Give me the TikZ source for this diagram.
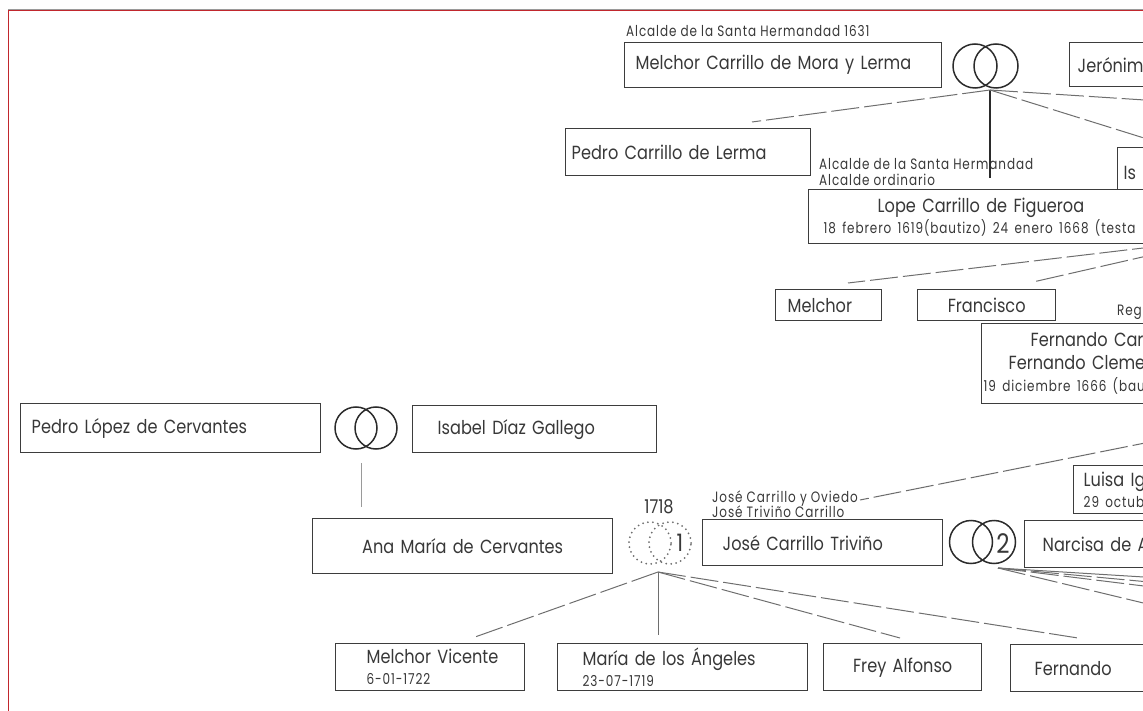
\documentclass[tikz,border=0pt]{standalone}
\usepackage{fontspec}
\setmainfont{Poppins}[FakeStretch=0.85]
\newfontfamily\notefam{Poppins}[FakeStretch=0.8,LetterSpace=6]

\definecolor{boxgray}{HTML}{3D3D3D}
\definecolor{inkgray}{HTML}{383838}
\definecolor{ringgray}{HTML}{2B2B2B}
\definecolor{wiregray}{HTML}{6E6E6E}
\definecolor{lightline}{HTML}{9A9A9A}
\definecolor{framered}{HTML}{C1272D}

\newcommand{\namefont}{\fontsize{19}{21}\selectfont}
\newcommand{\notefont}{\notefam\fontsize{15}{16}\selectfont}
\newcommand{\datefont}{\notefam\fontsize{15}{17}\selectfont}

\begin{document}
\begin{tikzpicture}[x=1pt,y=-1pt,
  person/.style={draw=boxgray,line width=1.4pt,fill=white,anchor=north west,inner ysep=0pt,align=left,font=\namefont,text=inkgray},
  note/.style={anchor=base west,inner sep=0pt,font=\notefont,text=inkgray},
  ring/.style={circle,draw=ringgray,line width=1.5pt,minimum size=44pt,inner sep=0pt},
  dotring/.style={circle,draw=wiregray,line width=2pt,dash pattern=on 0pt off 5pt,line cap=round,minimum size=42pt,inner sep=0pt},
  kin/.style={draw=wiregray,line width=1pt,dash pattern=on 28pt off 5pt},
  stem/.style={draw=ringgray,line width=1.2pt}]
\useasboundingbox (0,0) rectangle (1143,711);
\clip (0,0) rectangle (1143,711);

% frame of the page
\draw[lightline,line width=0.5pt] (8,9) -- (1143,9);
\draw[framered,line width=1.6pt] (8.5,711) -- (8.5,10.5) -- (1143,10.5);

% first generation
\node[note] (hermandad1631) at (626,37) {Alcalde de la Santa Hermandad 1631};
\node[person,inner xsep=11pt,text width=295pt,minimum height=45pt] (melchorCML) at (624,42) {Melchor Carrillo de Mora y Lerma};
\node[ring] (ringA1) at (975,66) {};
\node[ring] (ringA2) at (996,66) {};
\node[person,inner xsep=8pt,text width=110pt,minimum height=44pt] (jeronim) at (1069,42) {Jerónim};

% children of Melchor
\node[person,inner xsep=6pt,text width=233pt,minimum height=47pt] (pedroCL) at (565,128) {Pedro Carrillo de Lerma};
\node[person,inner xsep=6pt,text width=60pt,minimum height=50pt] (isb) at (1117,147) {Is};
\node[note] (alcaldeSH) at (819,170) {Alcalde de la Santa Hermandad};
\node[note] (alcaldeOrd) at (819,186) {Alcalde ordinario};
\node[person,inner xsep=15pt,text width=400pt,minimum height=54pt] (lope) at (808,189)
  {\hspace*{54pt}Lope Carrillo de Figueroa\\{\datefont 18 febrero 1619(bautizo) 24 enero 1668 (testa}};

% children of Lope
\node[person,inner xsep=12pt,text width=82pt,minimum height=31pt] (melchor) at (775,289) {Melchor};
\node[person,inner xsep=5pt,text width=128pt,minimum height=31pt,align=center] (francisco) at (917,289) {Francisco};
\node[note] (regidor) at (1117,316) {Reg};
\node[person,inner xsep=2pt,text width=300pt,minimum height=80pt,font=\fontsize{19}{22.5}\selectfont] (fernando) at (981,323)
  {\hspace*{47pt}Fernando Car\\\hspace*{25pt}Fernando Cleme\\{\datefont 19 diciembre 1666 (bau}};
\node[person,inner xsep=10pt,text width=120pt,minimum height=48pt] (luisa) at (1073,465) {Luisa Ig\\{\datefont 29 octub}};

% the Cervantes side
\node[person,inner xsep=11pt,text width=278pt,minimum height=49pt] (pedroLC) at (20,403) {Pedro López de Cervantes};
\node[ring,minimum size=42pt] (ringB1) at (356,428) {};
\node[ring,minimum size=42pt] (ringB2) at (376,428) {};
\node[person,inner xsep=25pt,text width=194pt,minimum height=47pt] (isabel) at (412,405) {Isabel Díaz Gallego};
\node[person,inner xsep=5pt,text width=290pt,minimum height=55pt,align=center] (ana) at (312,518) {Ana María de Cervantes};

% José and his two marriages
\node[font=\namefont,text=inkgray] (yr1718) at (659,507) {1718};
\node[dotring] (dotB1) at (650,543) {};
\node[dotring] (dotB2) at (670,543) {};
\node[font=\fontsize{24}{24}\selectfont,text=inkgray] (numOne) at (680,543) {1};
\node[note] (joseOviedo) at (712,502) {José Carrillo y Oviedo};
\node[note] (joseTrivino) at (712,517) {José Triviño Carrillo};
\node[person,inner xsep=20pt,text width=200pt,minimum height=46pt] (jose) at (702,519) {José Carrillo Triviño};
\node[ring,minimum size=43pt] (ringC1) at (971,542) {};
\node[ring,minimum size=43pt] (ringC2) at (994,542) {};
\node[font=\fontsize{27}{27}\selectfont,text=inkgray] (numTwo) at (1003,544) {2};
\node[person,inner xsep=18pt,text width=150pt,minimum height=47pt] (narcisa) at (1024,520) {Narcisa de A};

% grandchildren
\node[person,inner xsep=2pt,text width=185pt,minimum height=47pt] (mvicente) at (335,643)
  {\hspace*{29pt}Melchor Vicente\\\hspace*{29pt}{\datefont 6-01-1722}};
\node[person,inner xsep=25pt,text width=200pt,minimum height=47pt] (maria) at (557,643) {María de los Ángeles\\{\datefont 23-07-1719}};
\node[person,inner xsep=4pt,text width=150pt,minimum height=47pt,align=center] (frey) at (823,643) {Frey Alfonso};
\node[person,inner xsep=24pt,text width=150pt,minimum height=47pt] (fernandoB) at (1010,644) {Fernando};

% ends of the connectors
\coordinate (wedA) at (990,90);
\coordinate (tipLope) at (990,178);
\coordinate (tipPedroCL) at (752,122);
\coordinate (offJer) at (1160,101);
\coordinate (offIs) at (1160,143);
\coordinate (offLope1) at (1160,246);
\coordinate (offLope2) at (1160,253);
\coordinate (tipMelchor) at (848,283);
\coordinate (tipFrancisco) at (1033,282);
\coordinate (offFern) at (1160,440);
\coordinate (tipJose) at (860,500);
\coordinate (wedB) at (361,463);
\coordinate (tipAna) at (361,507);
\coordinate (wedC) at (658,572);
\coordinate (tipMV) at (475,637);
\coordinate (tipMaria) at (658,635);
\coordinate (tipFrey) at (900,638);
\coordinate (tipFernB) at (1078,638);
\coordinate (wedD) at (998,568);
\coordinate (offD1) at (1160,578);
\coordinate (offD2) at (1160,583);
\coordinate (offD3) at (1160,588);
\coordinate (offD4) at (1160,607);

% connectors
\draw[stem] (wedA) -- (tipLope);
\draw[kin] (wedA) -- (tipPedroCL);
\draw[kin] (wedA) -- (offJer);
\draw[kin] (wedA) -- (offIs);
\draw[kin] (offLope1) -- (tipMelchor);
\draw[kin] (offLope2) -- (tipFrancisco);
\draw[kin] (offFern) -- (tipJose);
\draw[lightline,line width=1pt] (wedB) -- (tipAna);
\draw[wiregray,line width=1pt] (wedC) -- (tipMaria);
\draw[kin] (wedC) -- (tipMV);
\draw[kin] (wedC) -- (tipFrey);
\draw[kin] (wedC) -- (tipFernB);
\draw[wiregray,line width=1pt] (wedD) -- (offD1);
\draw[kin] (wedD) -- (offD2);
\draw[kin] (wedD) -- (offD3);
\draw[kin] (wedD) -- (offD4);
\end{tikzpicture}
\end{document}
